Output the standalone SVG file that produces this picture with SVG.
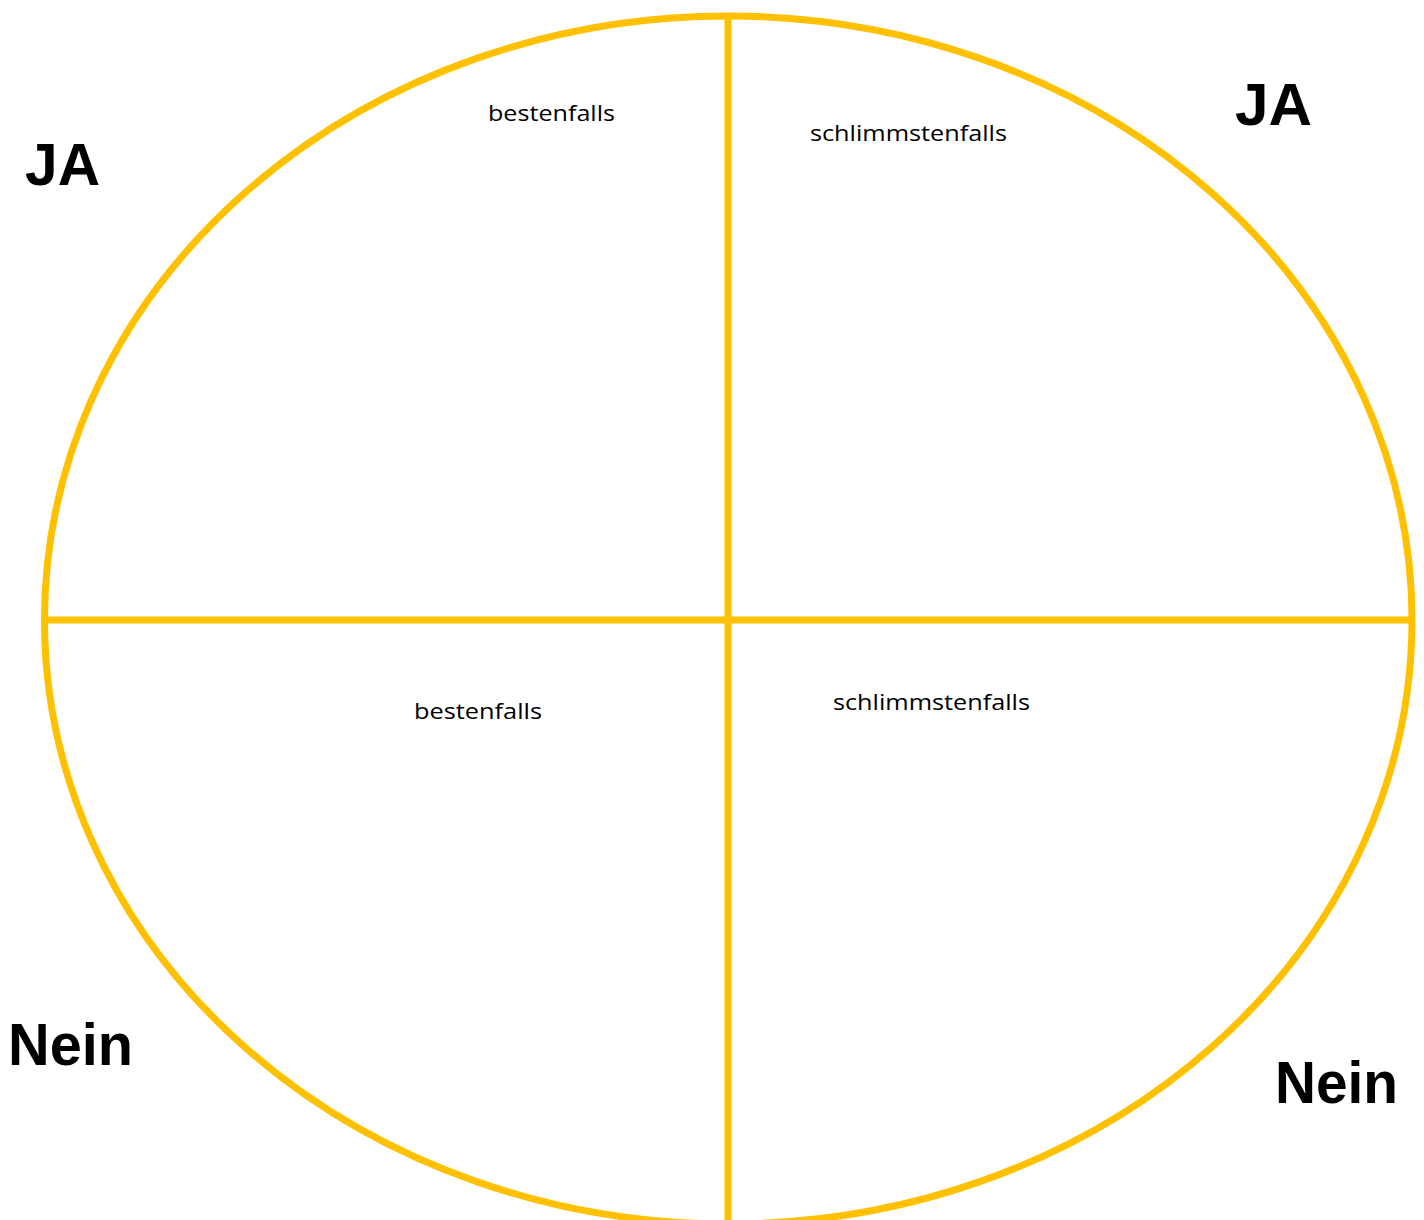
<svg xmlns="http://www.w3.org/2000/svg" width="1424" height="1220" viewBox="0 0 1424 1220">
  <style>
    .shape { fill: none; stroke: #FFC000; stroke-width: 7; }
    .small { font-family: "Open Sans", "Noto Sans", sans-serif; font-size: 22px; fill: #000; }
    .big { font-family: "Liberation Sans", "DejaVu Sans", sans-serif; font-weight: bold; font-size: 60px; fill: #000; }
  </style>
  <rect width="1424" height="1220" fill="#fff"/>
  <g id="circle">
    <ellipse class="shape" cx="728.25" cy="620" rx="683.75" ry="604"/>
  </g>
  <g id="connectors">
    <line class="shape" x1="728" y1="16" x2="728" y2="1224"/>
    <line class="shape" x1="44.5" y1="620" x2="1412" y2="620"/>
  </g>
  <g id="labels-top-left">
    <text class="small" x="488" y="121" textLength="127" lengthAdjust="spacingAndGlyphs">bestenfalls</text>
  </g>
  <g id="labels-top-right">
    <text class="small" x="810" y="141" textLength="197" lengthAdjust="spacingAndGlyphs">schlimmstenfalls</text>
  </g>
  <g id="labels-bottom-left">
    <text class="small" x="414" y="719" textLength="128" lengthAdjust="spacingAndGlyphs">bestenfalls</text>
  </g>
  <g id="labels-bottom-right">
    <text class="small" x="833" y="710" textLength="197" lengthAdjust="spacingAndGlyphs">schlimmstenfalls</text>
  </g>
  <g id="ja-left">
    <text class="big" x="25" y="185" textLength="75" lengthAdjust="spacingAndGlyphs">JA</text>
  </g>
  <g id="ja-right">
    <text class="big" x="1235" y="125" textLength="77" lengthAdjust="spacingAndGlyphs">JA</text>
  </g>
  <g id="nein-left">
    <text class="big" x="8" y="1065" textLength="125" lengthAdjust="spacingAndGlyphs">Nein</text>
  </g>
  <g id="nein-right">
    <text class="big" x="1275" y="1103" textLength="123" lengthAdjust="spacingAndGlyphs">Nein</text>
  </g>
</svg>
